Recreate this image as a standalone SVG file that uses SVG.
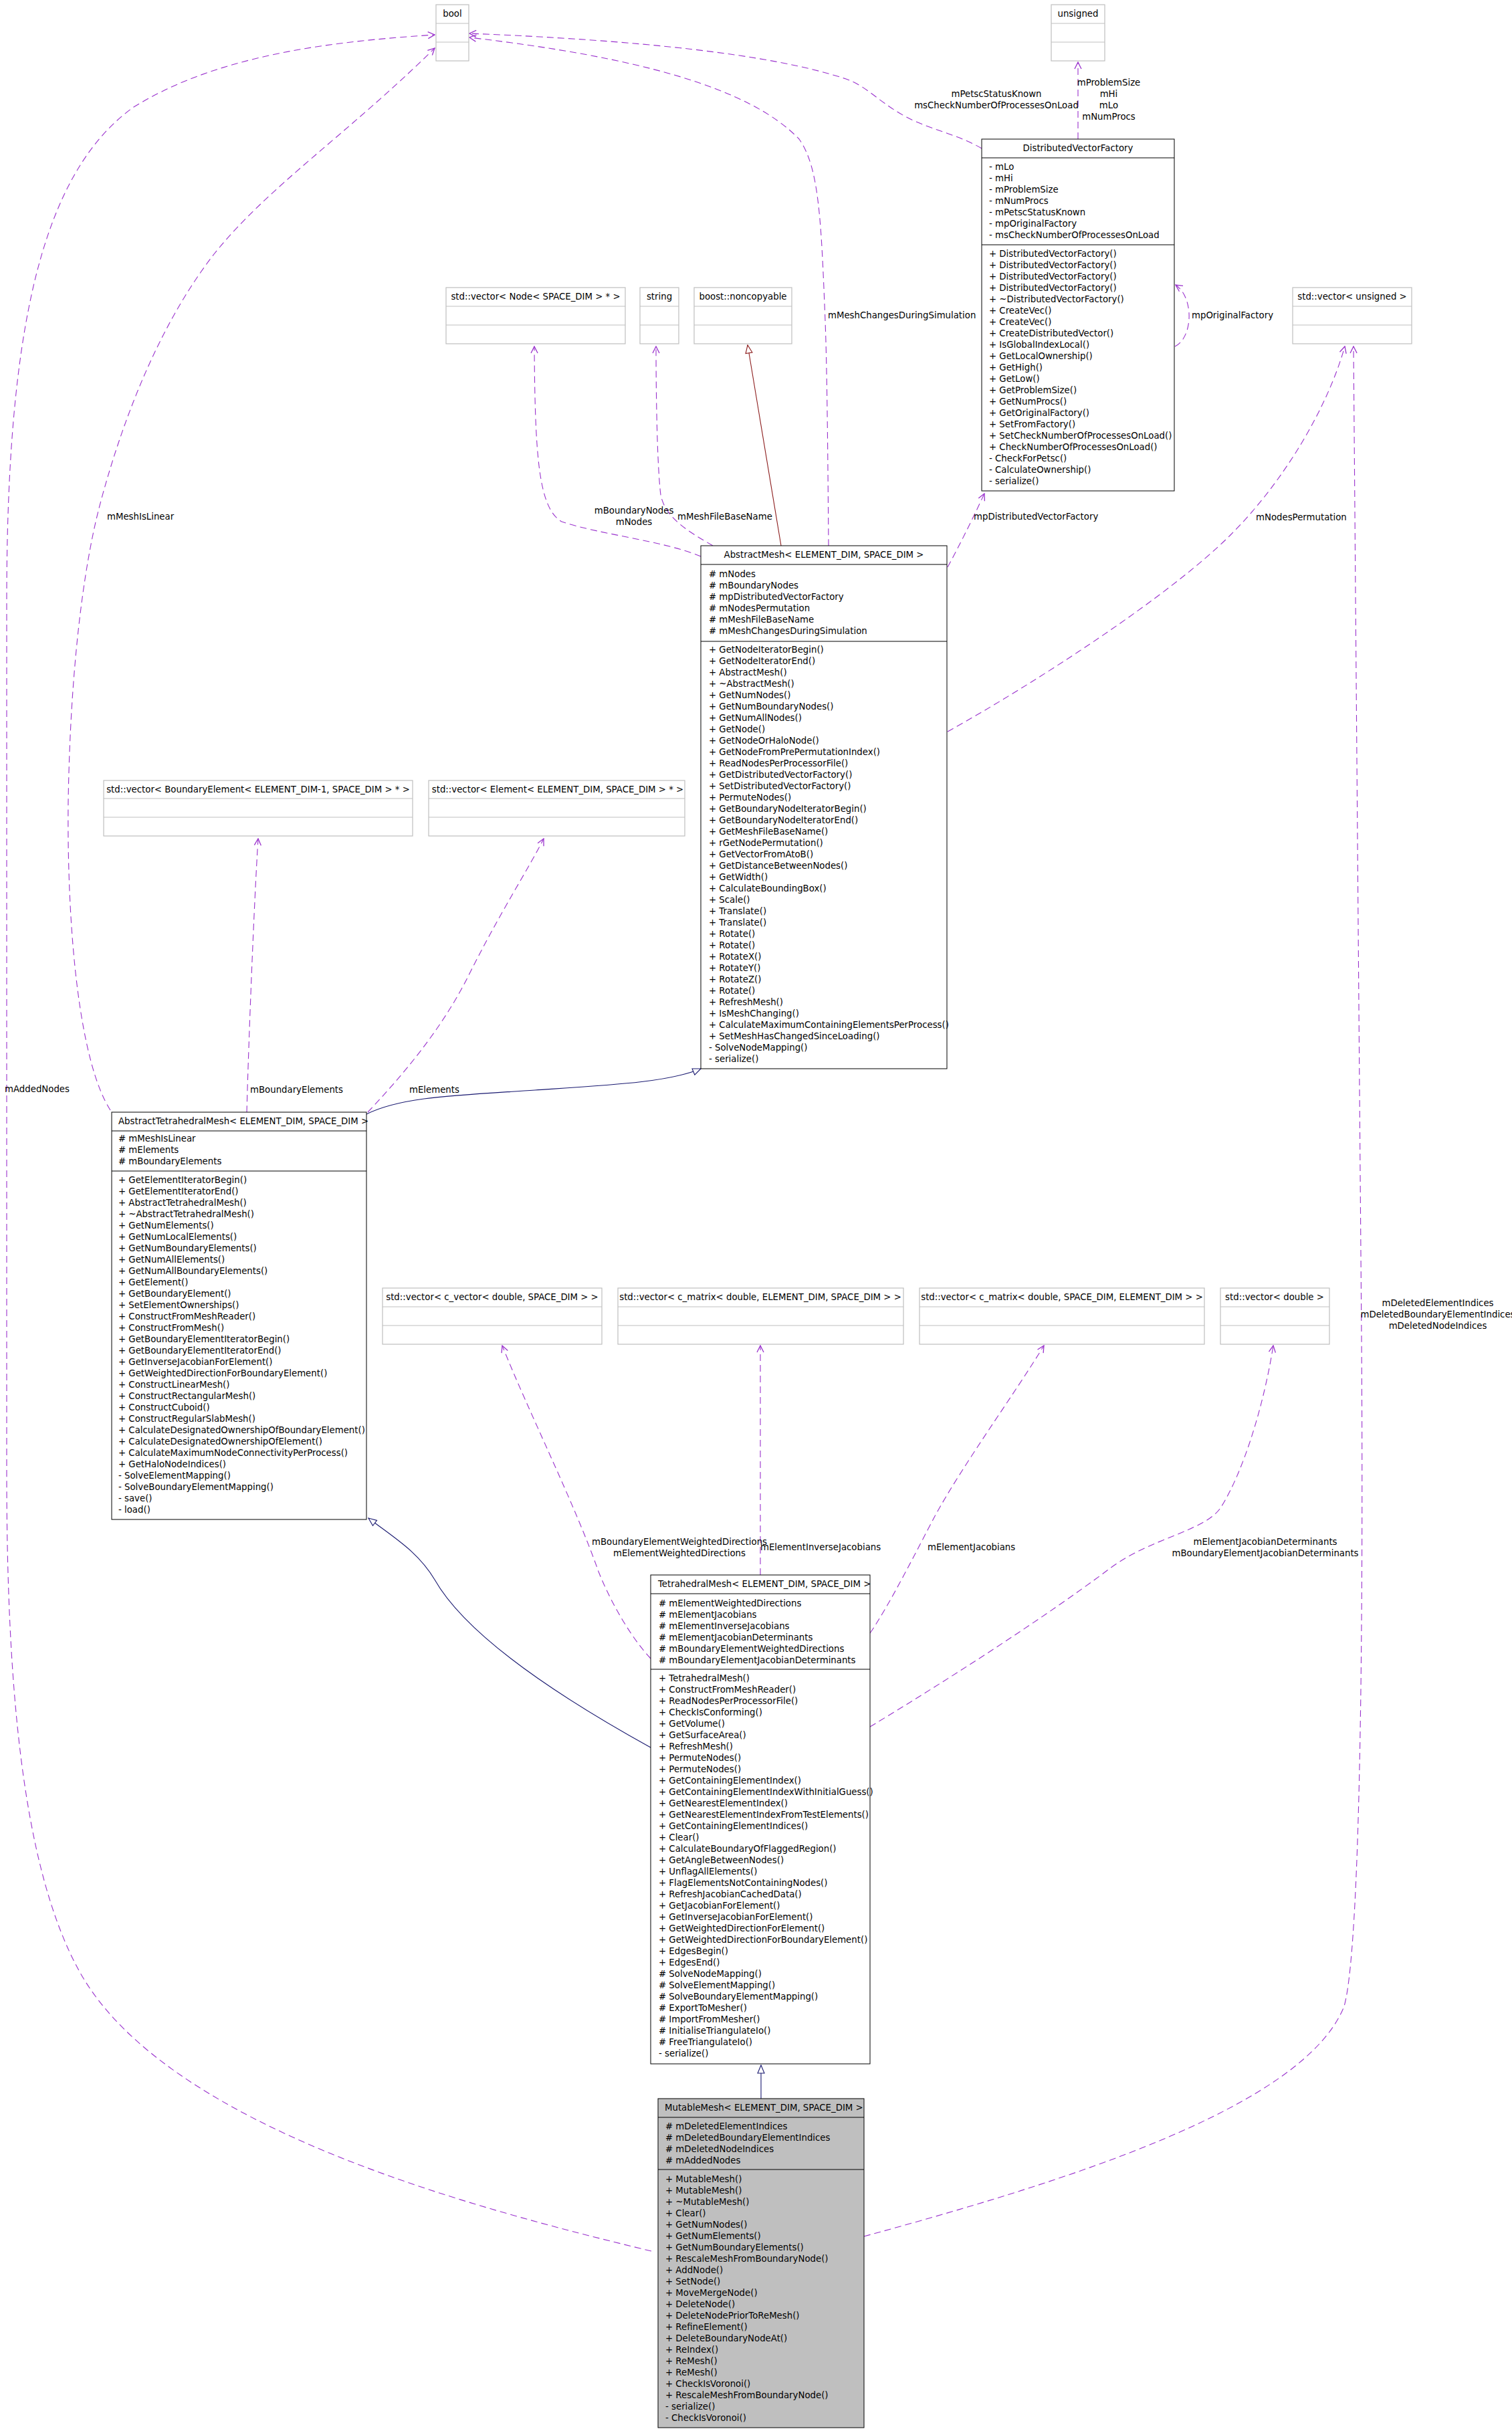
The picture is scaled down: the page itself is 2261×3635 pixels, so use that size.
<svg xmlns="http://www.w3.org/2000/svg" width="2261" height="3635" viewBox="0 0 2261 3635">
<style>
.t{font-family:"DejaVu Sans","Liberation Sans",sans-serif;font-size:13.3px;fill:#000}
.c{text-anchor:middle}
.box{fill:#fff;stroke:#000;stroke-width:1}
.mbox{fill:#bfbfbf;stroke:#000;stroke-width:1}
.sep{stroke:#000;stroke-width:1}
.gbox{fill:#fff;stroke:#bfbfbf;stroke-width:1.2}
.gsep{stroke:#bfbfbf;stroke-width:1.2}
.use{fill:none;stroke:#9a32cd;stroke-width:1.1;stroke-dasharray:10,6;marker-end:url(#vee)}
.inh{fill:none;stroke:#191970;stroke-width:1.1;marker-end:url(#triB)}
.pinh{fill:none;stroke:#8b1a1a;stroke-width:1.1;marker-end:url(#triR)}
</style>
<defs>
<marker id="vee" viewBox="0 0 12 12" refX="11" refY="6" markerWidth="12" markerHeight="12" markerUnits="userSpaceOnUse" orient="auto"><path d="M1,1 L11,6 L1,11" fill="none" stroke="#9a32cd" stroke-width="1.3"/></marker>
<marker id="triB" viewBox="0 0 14 12" refX="13" refY="6" markerWidth="14" markerHeight="12" markerUnits="userSpaceOnUse" orient="auto"><path d="M1,1 L13,6 L1,11 Z" fill="#fff" stroke="#191970" stroke-width="1.1"/></marker>
<marker id="triR" viewBox="0 0 14 12" refX="13" refY="6" markerWidth="14" markerHeight="12" markerUnits="userSpaceOnUse" orient="auto"><path d="M1,1 L13,6 L1,11 Z" fill="#fff" stroke="#8b1a1a" stroke-width="1.1"/></marker>
</defs>
<rect x="0" y="0" width="2261" height="3635" fill="#fff"/>

<g id="connectors">
<path class="use" d="M974,3366 C700,3300 250,3180 120,2950 C30,2790 10,2500 10,2200 L10,900 C10,500 60,260 200,160 C330,80 500,62 650,52"/>
<path class="use" d="M165,1660 C120,1590 100,1400 102,1200 C105,1000 125,850 148,760 C190,600 250,470 320,380 C400,280 520,200 650,72"/>
<path class="use" d="M1239,816 C1238,700 1237,560 1234,480 C1228,330 1225,250 1195,208 C1120,130 950,85 702,56"/>
<path class="use" d="M1468,222 C1440,205 1400,195 1370,182 C1320,160 1300,130 1265,118 C1150,80 950,60 702,50"/>
<path class="use" d="M1612,208 L1612,93"/>
<path class="use" d="M1757,518 C1784,505 1786,445 1758,426"/>
<path class="use" d="M1417,848 C1435,815 1455,775 1472,738"/>
<path class="use" d="M1048,832 C990,808 900,800 840,780 C805,760 800,680 799,518"/>
<path class="use" d="M1066,816 C1030,795 995,775 988,740 C983,700 981,600 981,518"/>
<path class="pinh" d="M1168,816 L1118,516"/>
<path class="use" d="M1417,1094 C1550,1020 1750,890 1840,800 C1920,720 1985,610 2011,518"/>
<path class="use" d="M1292,3344 C1600,3260 1950,3150 2010,3000 C2038,2900 2038,2300 2036,2000 L2024,518"/>
<path class="inh" d="M548,1666 C600,1640 680,1638 800,1630 C920,1622 1000,1618 1048,1598"/>
<path class="use" d="M369,1663 C372,1550 380,1350 386,1254"/>
<path class="use" d="M550,1663 C600,1610 660,1540 700,1460 C750,1360 790,1300 813,1254"/>
<path class="inh" d="M973,2613 C850,2545 700,2450 650,2362 C625,2320 590,2300 551,2270"/>
<path class="use" d="M973,2480 C945,2450 915,2400 895,2350 C860,2250 790,2110 751,2012"/>
<path class="use" d="M1137,2355 L1137,2012"/>
<path class="use" d="M1301,2442 C1330,2400 1370,2320 1398,2267 C1440,2190 1520,2080 1561,2012"/>
<path class="use" d="M1301,2582 C1420,2510 1560,2420 1660,2345 C1720,2300 1800,2290 1825,2255 C1860,2200 1890,2100 1904,2012"/>
<path class="inh" d="M1138,3138 L1138,3088"/>
<g class="t">
<text x="7" y="1633">mAddedNodes</text>
<text x="160" y="777">mMeshIsLinear</text>
<text x="1238" y="476">mMeshChangesDuringSimulation</text>
<text class="c" x="1490" y="145">mPetscStatusKnown</text>
<text class="c" x="1490" y="162">msCheckNumberOfProcessesOnLoad</text>
<text class="c" x="1658" y="128">mProblemSize</text>
<text class="c" x="1658" y="145">mHi</text>
<text class="c" x="1658" y="162">mLo</text>
<text class="c" x="1658" y="179">mNumProcs</text>
<text x="1782" y="476">mpOriginalFactory</text>
<text x="1456" y="777">mpDistributedVectorFactory</text>
<text class="c" x="948" y="768">mBoundaryNodes</text>
<text class="c" x="948" y="785">mNodes</text>
<text x="1013" y="777">mMeshFileBaseName</text>
<text x="1878" y="778">mNodesPermutation</text>
<text class="c" x="2150" y="1953">mDeletedElementIndices</text>
<text class="c" x="2150" y="1970">mDeletedBoundaryElementIndices</text>
<text class="c" x="2150" y="1987">mDeletedNodeIndices</text>
<text x="374" y="1634">mBoundaryElements</text>
<text x="612" y="1634">mElements</text>
<text class="c" x="1016" y="2310">mBoundaryElementWeightedDirections</text>
<text class="c" x="1016" y="2327">mElementWeightedDirections</text>
<text x="1137" y="2318">mElementInverseJacobians</text>
<text x="1387" y="2318">mElementJacobians</text>
<text class="c" x="1892" y="2310">mElementJacobianDeterminants</text>
<text class="c" x="1892" y="2327">mBoundaryElementJacobianDeterminants</text>
</g>
</g>

<g id="bool">
<rect class="gbox" x="652" y="7" width="49" height="84"/>
<line class="gsep" x1="652" y1="35" x2="701" y2="35"/><line class="gsep" x1="652" y1="63" x2="701" y2="63"/>
<text class="t c" x="676.5" y="25">bool</text>
</g>
<g id="unsigned">
<rect class="gbox" x="1572" y="7" width="80" height="84"/>
<line class="gsep" x1="1572" y1="35" x2="1652" y2="35"/><line class="gsep" x1="1572" y1="63" x2="1652" y2="63"/>
<text class="t c" x="1612" y="25">unsigned</text>
</g>
<g id="vecNode">
<rect class="gbox" x="667" y="430" width="268" height="84"/>
<line class="gsep" x1="667" y1="458" x2="935" y2="458"/><line class="gsep" x1="667" y1="486" x2="935" y2="486"/>
<text class="t c" x="801" y="448">std::vector&lt; Node&lt; SPACE_DIM &gt; * &gt;</text>
</g>
<g id="string">
<rect class="gbox" x="957" y="430" width="58" height="84"/>
<line class="gsep" x1="957" y1="458" x2="1015" y2="458"/><line class="gsep" x1="957" y1="486" x2="1015" y2="486"/>
<text class="t c" x="986" y="448">string</text>
</g>
<g id="noncopyable">
<rect class="gbox" x="1038" y="430" width="146" height="84"/>
<line class="gsep" x1="1038" y1="458" x2="1184" y2="458"/><line class="gsep" x1="1038" y1="486" x2="1184" y2="486"/>
<text class="t c" x="1111" y="448">boost::noncopyable</text>
</g>
<g id="vecUnsigned">
<rect class="gbox" x="1933" y="430" width="178" height="84"/>
<line class="gsep" x1="1933" y1="458" x2="2111" y2="458"/><line class="gsep" x1="1933" y1="486" x2="2111" y2="486"/>
<text class="t c" x="2022" y="448">std::vector&lt; unsigned &gt;</text>
</g>
<g id="vecBoundaryElement">
<rect class="gbox" x="155" y="1167" width="462" height="83"/>
<line class="gsep" x1="155" y1="1194" x2="617" y2="1194"/><line class="gsep" x1="155" y1="1222" x2="617" y2="1222"/>
<text class="t c" x="386" y="1185">std::vector&lt; BoundaryElement&lt; ELEMENT_DIM-1, SPACE_DIM &gt; * &gt;</text>
</g>
<g id="vecElement">
<rect class="gbox" x="641" y="1167" width="383" height="83"/>
<line class="gsep" x1="641" y1="1194" x2="1024" y2="1194"/><line class="gsep" x1="641" y1="1222" x2="1024" y2="1222"/>
<text class="t c" x="834" y="1185">std::vector&lt; Element&lt; ELEMENT_DIM, SPACE_DIM &gt; * &gt;</text>
</g>
<g id="vecCVector">
<rect class="gbox" x="572" y="1926" width="328" height="84"/>
<line class="gsep" x1="572" y1="1954" x2="900" y2="1954"/><line class="gsep" x1="572" y1="1982" x2="900" y2="1982"/>
<text class="t c" x="736" y="1944">std::vector&lt; c_vector&lt; double, SPACE_DIM &gt; &gt;</text>
</g>
<g id="vecCMatrixES">
<rect class="gbox" x="924" y="1926" width="427" height="84"/>
<line class="gsep" x1="924" y1="1954" x2="1351" y2="1954"/><line class="gsep" x1="924" y1="1982" x2="1351" y2="1982"/>
<text class="t c" x="1137" y="1944">std::vector&lt; c_matrix&lt; double, ELEMENT_DIM, SPACE_DIM &gt; &gt;</text>
</g>
<g id="vecCMatrixSE">
<rect class="gbox" x="1375" y="1926" width="426" height="84"/>
<line class="gsep" x1="1375" y1="1954" x2="1801" y2="1954"/><line class="gsep" x1="1375" y1="1982" x2="1801" y2="1982"/>
<text class="t c" x="1588" y="1944">std::vector&lt; c_matrix&lt; double, SPACE_DIM, ELEMENT_DIM &gt; &gt;</text>
</g>
<g id="vecDouble">
<rect class="gbox" x="1825" y="1926" width="163" height="84"/>
<line class="gsep" x1="1825" y1="1954" x2="1988" y2="1954"/><line class="gsep" x1="1825" y1="1982" x2="1988" y2="1982"/>
<text class="t c" x="1906" y="1944">std::vector&lt; double &gt;</text>
</g>

<g id="DistributedVectorFactory">
<rect class="box" x="1468" y="208" width="288" height="526"/>
<line class="sep" x1="1468" y1="236" x2="1756" y2="236"/>
<line class="sep" x1="1468" y1="366" x2="1756" y2="366"/>
<text class="t c" x="1612" y="226">DistributedVectorFactory</text>
<text class="t" x="1479" y="254"><tspan x="1479" dy="0">- mLo</tspan><tspan x="1479" dy="17">- mHi</tspan><tspan x="1479" dy="17">- mProblemSize</tspan><tspan x="1479" dy="17">- mNumProcs</tspan><tspan x="1479" dy="17">- mPetscStatusKnown</tspan><tspan x="1479" dy="17">- mpOriginalFactory</tspan><tspan x="1479" dy="17">- msCheckNumberOfProcessesOnLoad</tspan></text>
<text class="t" x="1479" y="384"><tspan x="1479" dy="0">+ DistributedVectorFactory()</tspan><tspan x="1479" dy="17">+ DistributedVectorFactory()</tspan><tspan x="1479" dy="17">+ DistributedVectorFactory()</tspan><tspan x="1479" dy="17">+ DistributedVectorFactory()</tspan><tspan x="1479" dy="17">+ ~DistributedVectorFactory()</tspan><tspan x="1479" dy="17">+ CreateVec()</tspan><tspan x="1479" dy="17">+ CreateVec()</tspan><tspan x="1479" dy="17">+ CreateDistributedVector()</tspan><tspan x="1479" dy="17">+ IsGlobalIndexLocal()</tspan><tspan x="1479" dy="17">+ GetLocalOwnership()</tspan><tspan x="1479" dy="17">+ GetHigh()</tspan><tspan x="1479" dy="17">+ GetLow()</tspan><tspan x="1479" dy="17">+ GetProblemSize()</tspan><tspan x="1479" dy="17">+ GetNumProcs()</tspan><tspan x="1479" dy="17">+ GetOriginalFactory()</tspan><tspan x="1479" dy="17">+ SetFromFactory()</tspan><tspan x="1479" dy="17">+ SetCheckNumberOfProcessesOnLoad()</tspan><tspan x="1479" dy="17">+ CheckNumberOfProcessesOnLoad()</tspan><tspan x="1479" dy="17">- CheckForPetsc()</tspan><tspan x="1479" dy="17">- CalculateOwnership()</tspan><tspan x="1479" dy="17">- serialize()</tspan></text>
</g>

<g id="AbstractMesh">
<rect class="box" x="1048" y="816" width="368" height="782"/>
<line class="sep" x1="1048" y1="844" x2="1416" y2="844"/>
<line class="sep" x1="1048" y1="959" x2="1416" y2="959"/>
<text class="t c" x="1232" y="834">AbstractMesh&lt; ELEMENT_DIM, SPACE_DIM &gt;</text>
<text class="t" x="1060" y="863"><tspan x="1060" dy="0"># mNodes</tspan><tspan x="1060" dy="17"># mBoundaryNodes</tspan><tspan x="1060" dy="17"># mpDistributedVectorFactory</tspan><tspan x="1060" dy="17"># mNodesPermutation</tspan><tspan x="1060" dy="17"># mMeshFileBaseName</tspan><tspan x="1060" dy="17"># mMeshChangesDuringSimulation</tspan></text>
<text class="t" x="1060" y="976"><tspan x="1060" dy="0">+ GetNodeIteratorBegin()</tspan><tspan x="1060" dy="17">+ GetNodeIteratorEnd()</tspan><tspan x="1060" dy="17">+ AbstractMesh()</tspan><tspan x="1060" dy="17">+ ~AbstractMesh()</tspan><tspan x="1060" dy="17">+ GetNumNodes()</tspan><tspan x="1060" dy="17">+ GetNumBoundaryNodes()</tspan><tspan x="1060" dy="17">+ GetNumAllNodes()</tspan><tspan x="1060" dy="17">+ GetNode()</tspan><tspan x="1060" dy="17">+ GetNodeOrHaloNode()</tspan><tspan x="1060" dy="17">+ GetNodeFromPrePermutationIndex()</tspan><tspan x="1060" dy="17">+ ReadNodesPerProcessorFile()</tspan><tspan x="1060" dy="17">+ GetDistributedVectorFactory()</tspan><tspan x="1060" dy="17">+ SetDistributedVectorFactory()</tspan><tspan x="1060" dy="17">+ PermuteNodes()</tspan><tspan x="1060" dy="17">+ GetBoundaryNodeIteratorBegin()</tspan><tspan x="1060" dy="17">+ GetBoundaryNodeIteratorEnd()</tspan><tspan x="1060" dy="17">+ GetMeshFileBaseName()</tspan><tspan x="1060" dy="17">+ rGetNodePermutation()</tspan><tspan x="1060" dy="17">+ GetVectorFromAtoB()</tspan><tspan x="1060" dy="17">+ GetDistanceBetweenNodes()</tspan><tspan x="1060" dy="17">+ GetWidth()</tspan><tspan x="1060" dy="17">+ CalculateBoundingBox()</tspan><tspan x="1060" dy="17">+ Scale()</tspan><tspan x="1060" dy="17">+ Translate()</tspan><tspan x="1060" dy="17">+ Translate()</tspan><tspan x="1060" dy="17">+ Rotate()</tspan><tspan x="1060" dy="17">+ Rotate()</tspan><tspan x="1060" dy="17">+ RotateX()</tspan><tspan x="1060" dy="17">+ RotateY()</tspan><tspan x="1060" dy="17">+ RotateZ()</tspan><tspan x="1060" dy="17">+ Rotate()</tspan><tspan x="1060" dy="17">+ RefreshMesh()</tspan><tspan x="1060" dy="17">+ IsMeshChanging()</tspan><tspan x="1060" dy="17">+ CalculateMaximumContainingElementsPerProcess()</tspan><tspan x="1060" dy="17">+ SetMeshHasChangedSinceLoading()</tspan><tspan x="1060" dy="17">- SolveNodeMapping()</tspan><tspan x="1060" dy="17">- serialize()</tspan></text>
</g>

<g id="AbstractTetrahedralMesh">
<rect class="box" x="167" y="1663" width="381" height="609"/>
<line class="sep" x1="167" y1="1691" x2="548" y2="1691"/>
<line class="sep" x1="167" y1="1751" x2="548" y2="1751"/>
<text class="t" x="177" y="1681">AbstractTetrahedralMesh&lt; ELEMENT_DIM, SPACE_DIM &gt;</text>
<text class="t" x="177" y="1707"><tspan x="177" dy="0"># mMeshIsLinear</tspan><tspan x="177" dy="17"># mElements</tspan><tspan x="177" dy="17"># mBoundaryElements</tspan></text>
<text class="t" x="177" y="1769"><tspan x="177" dy="0">+ GetElementIteratorBegin()</tspan><tspan x="177" dy="17">+ GetElementIteratorEnd()</tspan><tspan x="177" dy="17">+ AbstractTetrahedralMesh()</tspan><tspan x="177" dy="17">+ ~AbstractTetrahedralMesh()</tspan><tspan x="177" dy="17">+ GetNumElements()</tspan><tspan x="177" dy="17">+ GetNumLocalElements()</tspan><tspan x="177" dy="17">+ GetNumBoundaryElements()</tspan><tspan x="177" dy="17">+ GetNumAllElements()</tspan><tspan x="177" dy="17">+ GetNumAllBoundaryElements()</tspan><tspan x="177" dy="17">+ GetElement()</tspan><tspan x="177" dy="17">+ GetBoundaryElement()</tspan><tspan x="177" dy="17">+ SetElementOwnerships()</tspan><tspan x="177" dy="17">+ ConstructFromMeshReader()</tspan><tspan x="177" dy="17">+ ConstructFromMesh()</tspan><tspan x="177" dy="17">+ GetBoundaryElementIteratorBegin()</tspan><tspan x="177" dy="17">+ GetBoundaryElementIteratorEnd()</tspan><tspan x="177" dy="17">+ GetInverseJacobianForElement()</tspan><tspan x="177" dy="17">+ GetWeightedDirectionForBoundaryElement()</tspan><tspan x="177" dy="17">+ ConstructLinearMesh()</tspan><tspan x="177" dy="17">+ ConstructRectangularMesh()</tspan><tspan x="177" dy="17">+ ConstructCuboid()</tspan><tspan x="177" dy="17">+ ConstructRegularSlabMesh()</tspan><tspan x="177" dy="17">+ CalculateDesignatedOwnershipOfBoundaryElement()</tspan><tspan x="177" dy="17">+ CalculateDesignatedOwnershipOfElement()</tspan><tspan x="177" dy="17">+ CalculateMaximumNodeConnectivityPerProcess()</tspan><tspan x="177" dy="17">+ GetHaloNodeIndices()</tspan><tspan x="177" dy="17">- SolveElementMapping()</tspan><tspan x="177" dy="17">- SolveBoundaryElementMapping()</tspan><tspan x="177" dy="17">- save()</tspan><tspan x="177" dy="17">- load()</tspan></text>
</g>

<g id="TetrahedralMesh">
<rect class="box" x="973" y="2355" width="328" height="731"/>
<line class="sep" x1="973" y1="2383" x2="1301" y2="2383"/>
<line class="sep" x1="973" y1="2496" x2="1301" y2="2496"/>
<text class="t" x="984" y="2373">TetrahedralMesh&lt; ELEMENT_DIM, SPACE_DIM &gt;</text>
<text class="t" x="985" y="2402"><tspan x="985" dy="0"># mElementWeightedDirections</tspan><tspan x="985" dy="17"># mElementJacobians</tspan><tspan x="985" dy="17"># mElementInverseJacobians</tspan><tspan x="985" dy="17"># mElementJacobianDeterminants</tspan><tspan x="985" dy="17"># mBoundaryElementWeightedDirections</tspan><tspan x="985" dy="17"># mBoundaryElementJacobianDeterminants</tspan></text>
<text class="t" x="985" y="2514"><tspan x="985" dy="0">+ TetrahedralMesh()</tspan><tspan x="985" dy="17">+ ConstructFromMeshReader()</tspan><tspan x="985" dy="17">+ ReadNodesPerProcessorFile()</tspan><tspan x="985" dy="17">+ CheckIsConforming()</tspan><tspan x="985" dy="17">+ GetVolume()</tspan><tspan x="985" dy="17">+ GetSurfaceArea()</tspan><tspan x="985" dy="17">+ RefreshMesh()</tspan><tspan x="985" dy="17">+ PermuteNodes()</tspan><tspan x="985" dy="17">+ PermuteNodes()</tspan><tspan x="985" dy="17">+ GetContainingElementIndex()</tspan><tspan x="985" dy="17">+ GetContainingElementIndexWithInitialGuess()</tspan><tspan x="985" dy="17">+ GetNearestElementIndex()</tspan><tspan x="985" dy="17">+ GetNearestElementIndexFromTestElements()</tspan><tspan x="985" dy="17">+ GetContainingElementIndices()</tspan><tspan x="985" dy="17">+ Clear()</tspan><tspan x="985" dy="17">+ CalculateBoundaryOfFlaggedRegion()</tspan><tspan x="985" dy="17">+ GetAngleBetweenNodes()</tspan><tspan x="985" dy="17">+ UnflagAllElements()</tspan><tspan x="985" dy="17">+ FlagElementsNotContainingNodes()</tspan><tspan x="985" dy="17">+ RefreshJacobianCachedData()</tspan><tspan x="985" dy="17">+ GetJacobianForElement()</tspan><tspan x="985" dy="17">+ GetInverseJacobianForElement()</tspan><tspan x="985" dy="17">+ GetWeightedDirectionForElement()</tspan><tspan x="985" dy="17">+ GetWeightedDirectionForBoundaryElement()</tspan><tspan x="985" dy="17">+ EdgesBegin()</tspan><tspan x="985" dy="17">+ EdgesEnd()</tspan><tspan x="985" dy="17"># SolveNodeMapping()</tspan><tspan x="985" dy="17"># SolveElementMapping()</tspan><tspan x="985" dy="17"># SolveBoundaryElementMapping()</tspan><tspan x="985" dy="17"># ExportToMesher()</tspan><tspan x="985" dy="17"># ImportFromMesher()</tspan><tspan x="985" dy="17"># InitialiseTriangulateIo()</tspan><tspan x="985" dy="17"># FreeTriangulateIo()</tspan><tspan x="985" dy="17">- serialize()</tspan></text>
</g>

<g id="MutableMesh">
<rect class="mbox" x="984" y="3138" width="308" height="492"/>
<line class="sep" x1="984" y1="3166" x2="1292" y2="3166"/>
<line class="sep" x1="984" y1="3244" x2="1292" y2="3244"/>
<text class="t" x="994" y="3156">MutableMesh&lt; ELEMENT_DIM, SPACE_DIM &gt;</text>
<text class="t" x="995" y="3184"><tspan x="995" dy="0"># mDeletedElementIndices</tspan><tspan x="995" dy="17"># mDeletedBoundaryElementIndices</tspan><tspan x="995" dy="17"># mDeletedNodeIndices</tspan><tspan x="995" dy="17"># mAddedNodes</tspan></text>
<text class="t" x="995" y="3263"><tspan x="995" dy="0">+ MutableMesh()</tspan><tspan x="995" dy="17">+ MutableMesh()</tspan><tspan x="995" dy="17">+ ~MutableMesh()</tspan><tspan x="995" dy="17">+ Clear()</tspan><tspan x="995" dy="17">+ GetNumNodes()</tspan><tspan x="995" dy="17">+ GetNumElements()</tspan><tspan x="995" dy="17">+ GetNumBoundaryElements()</tspan><tspan x="995" dy="17">+ RescaleMeshFromBoundaryNode()</tspan><tspan x="995" dy="17">+ AddNode()</tspan><tspan x="995" dy="17">+ SetNode()</tspan><tspan x="995" dy="17">+ MoveMergeNode()</tspan><tspan x="995" dy="17">+ DeleteNode()</tspan><tspan x="995" dy="17">+ DeleteNodePriorToReMesh()</tspan><tspan x="995" dy="17">+ RefineElement()</tspan><tspan x="995" dy="17">+ DeleteBoundaryNodeAt()</tspan><tspan x="995" dy="17">+ ReIndex()</tspan><tspan x="995" dy="17">+ ReMesh()</tspan><tspan x="995" dy="17">+ ReMesh()</tspan><tspan x="995" dy="17">+ CheckIsVoronoi()</tspan><tspan x="995" dy="17">+ RescaleMeshFromBoundaryNode()</tspan><tspan x="995" dy="17">- serialize()</tspan><tspan x="995" dy="17">- CheckIsVoronoi()</tspan></text>
</g>
</svg>
